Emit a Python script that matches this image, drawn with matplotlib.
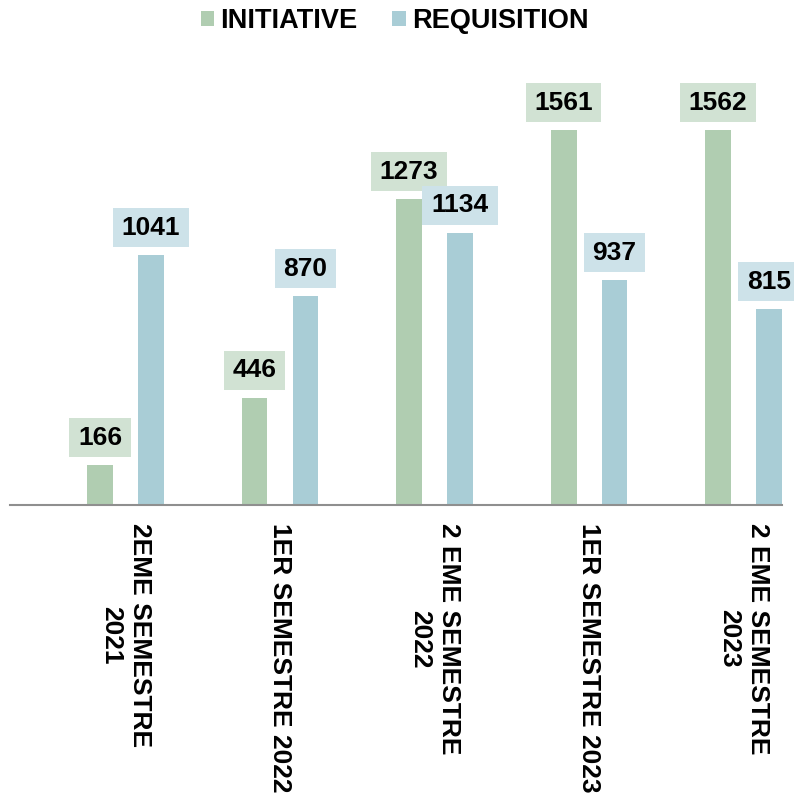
import numpy as np
import matplotlib.pyplot as plt
import matplotlib.transforms as mtransforms
from matplotlib.patches import Rectangle, Patch

plt.rcParams['font.family'] = ['Liberation Sans', 'DejaVu Sans']
plt.rcParams['font.weight'] = 'bold'

categories = ["2EME SEMESTRE\n2021", "1ER SEMESTRE 2022", "2 EME SEMESTRE\n2022",
              "1ER SEMESTRE 2023", "2 EME SEMESTRE\n2023"]
initiative = [166, 446, 1273, 1561, 1562]
requisition = [1041, 870, 1134, 937, 815]
series_names = ["INITIATIVE", "REQUISITION"]

bar_colors = ["#b0cdb1", "#a9cdd6"]
box_colors = ["#d1e2d3", "#cde2e9"]

fig = plt.figure(figsize=(7.94, 8.11), dpi=100)
ax = fig.add_axes([10 / 794, (811 - 505) / 811, 772 / 794, 445 / 811])

x = np.arange(len(categories))
offset = 0.165
width = 0.168

for i, vals in enumerate([initiative, requisition]):
    xs = x + (offset if i else -offset)
    ax.bar(xs, vals, width, color=bar_colors[i], zorder=2)
    # value labels with coloured boxes, sized in pixels
    for xc, v in zip(xs, vals):
        txt = str(v)
        w = 14.2 * len(txt) + 19
        tr = mtransforms.IdentityTransform() + mtransforms.ScaledTranslation(xc, v, ax.transData)
        ax.add_patch(Rectangle((-w / 2, 8), w, 39, transform=tr, facecolor=box_colors[i],
                               edgecolor='none', clip_on=False, zorder=3 + 2 * i))
        ax.annotate(txt, (xc, v), xytext=(0, 27.5), textcoords='offset pixels',
                    ha='center', va='center', fontsize=19, fontweight='bold',
                    color='black', zorder=4 + 2 * i, annotation_clip=False)

ax.set_xlim(-0.7476, 4.249)
ax.set_ylim(0, 1854)

ax.set_xticks(x)
ax.set_xticklabels(categories, rotation=-90, ha='center', va='top', fontsize=19,
                   fontweight='bold', linespacing=1.25, multialignment='center')
ax.tick_params(axis='x', length=0, pad=13)
ax.set_yticks([])
for s in ['top', 'left', 'right']:
    ax.spines[s].set_visible(False)
ax.spines['bottom'].set_color('#8f8f8f')
ax.spines['bottom'].set_linewidth(1.5)

handles = [Patch(facecolor=c, edgecolor='none') for c in bar_colors]
fig.legend(handles, series_names, loc='center', bbox_to_anchor=(394.5 / 794, 1 - 21 / 811),
           ncol=2, frameon=False, prop={'size': 19.5, 'weight': 'bold'},
           handlelength=0.5, handleheight=0.45, handletextpad=0.22, columnspacing=1.3)

fig.savefig("out.png", dpi=100)
